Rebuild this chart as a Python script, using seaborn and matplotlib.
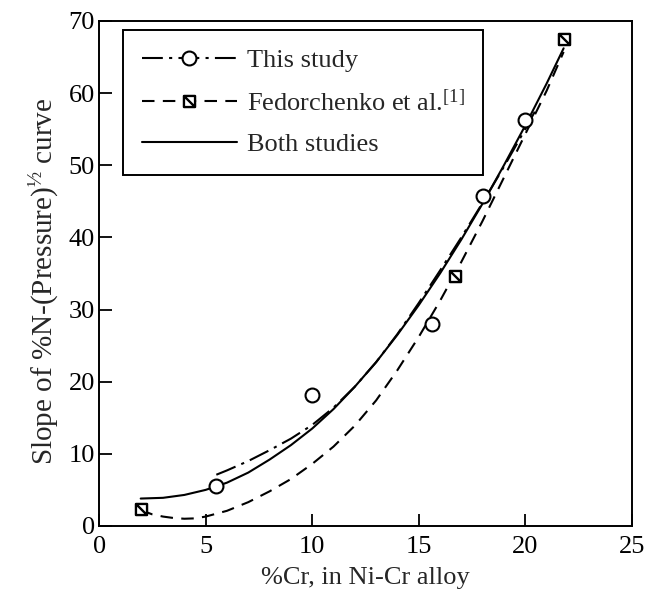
import numpy as np
import pandas as pd
import matplotlib
matplotlib.use("Agg")
import matplotlib.pyplot as plt
from matplotlib.path import Path
from matplotlib.lines import Line2D
import seaborn as sns

# ---- data ----
this_x = [5.5, 10.0, 15.6, 18.0, 20.0]
this_y = [5.5, 18.2, 28.0, 45.7, 56.3]

fed_x = [1.95, 16.7, 21.8]
fed_y = [2.3, 34.7, 67.5]

# fitted curves
this_fit_x = [5.5, 6, 7, 8, 9, 10, 11, 12, 13, 14, 15, 16, 17, 18, 19, 20, 20.5]
this_fit_y = [7.1, 7.7, 9.0, 10.5, 12.1, 14.0, 16.4, 19.3, 22.7, 26.6, 30.9, 35.4, 40.0, 44.8, 49.8, 55.0, 57.7]

fed_fit_x = [1.95, 2.5, 3, 3.5, 4, 4.5, 5, 6, 7, 8, 9, 10, 11, 12, 13, 14, 15, 16, 17, 18, 19, 20, 21, 21.8]
fed_fit_y = [2.2, 1.6, 1.3, 1.1, 1.0, 1.05, 1.3, 2.1, 3.3, 4.8, 6.5, 8.6, 11.0, 13.9, 17.4, 21.6, 26.2, 31.2, 36.6, 42.3, 48.3, 54.3, 60.3, 65.7]

both_fit_x = [1.95, 3, 4, 5, 6, 7, 8, 9, 10, 11, 12, 13, 14, 15, 16, 17, 18, 19, 20, 21, 21.8]
both_fit_y = [3.8, 3.9, 4.3, 5.0, 6.0, 7.4, 9.2, 11.2, 13.5, 16.2, 19.3, 22.7, 26.5, 30.6, 35.0, 39.7, 44.7, 50.0, 55.5, 61.3, 66.2]

x_ticks = [0, 5, 10, 15, 20, 25]
y_ticks = [0, 10, 20, 30, 40, 50, 60, 70]

sns.set_style("ticks")
plt.rcParams['font.family'] = ['Liberation Serif', 'DejaVu Serif']
plt.rcParams['mathtext.fontset'] = 'custom'
plt.rcParams['mathtext.rm'] = 'Liberation Serif'
plt.rcParams['mathtext.it'] = 'Liberation Serif:italic'
plt.rcParams['mathtext.bf'] = 'Liberation Serif:bold'

FS = 19

fig = plt.figure(figsize=(6.48, 5.97), dpi=100)
ax = fig.add_axes([0.153, 0.119, 0.822, 0.846])

lw = 1.5
sns.lineplot(x=both_fit_x, y=both_fit_y, ax=ax, color='black', lw=lw, linestyle='-', sort=False)
sns.lineplot(x=this_fit_x, y=this_fit_y, ax=ax, color='black', lw=lw, sort=False)
ax.lines[-1].set_dashes([10, 3, 1.5, 3])
sns.lineplot(x=fed_fit_x, y=fed_fit_y, ax=ax, color='black', lw=lw, sort=False)
ax.lines[-1].set_dashes([6, 4])

# square with diagonal marker
sq = Path([(-1, -1), (1, -1), (1, 1), (-1, 1), (-1, -1), (-1, 1), (1, -1)],
          [Path.MOVETO, Path.LINETO, Path.LINETO, Path.LINETO, Path.CLOSEPOLY,
           Path.MOVETO, Path.LINETO])

ax.plot(this_x, this_y, linestyle='none', marker='o', ms=10, mfc='white',
        mec='black', mew=1.5)
ax.plot(fed_x, fed_y, linestyle='none', marker=sq, ms=8, mfc='white',
        mec='black', mew=1.7)

ax.set_xlim(0, 25)
ax.set_ylim(0, 70)
ax.set_xticks(x_ticks)
ax.set_yticks(y_ticks)
ax.tick_params(axis='both', direction='in', length=9, width=1.3, labelsize=FS,
               colors='black')
ax.tick_params(axis='x', pad=7)
ax.tick_params(axis='y', pad=3)
for s in ax.spines.values():
    s.set_linewidth(1.4)
    s.set_color('black')

ax.set_xlabel('%Cr, in Ni-Cr alloy', fontsize=FS, labelpad=7)
ax.set_ylabel(r'Slope of %N-(Pressure)$^{\mathrm{½}}$ curve', fontsize=21)
ax.yaxis.set_label_coords(-0.069, 0.485)

h1 = Line2D([], [], color='black', lw=lw, marker='o', ms=10, mfc='white', mec='black', mew=1.5)
h1.set_dashes([10, 3, 1.5, 3])
h2 = Line2D([], [], color='black', lw=lw, marker=sq, ms=8, mfc='white', mec='black', mew=1.7)
h2.set_dashes([6, 4])
h3 = Line2D([], [], color='black', lw=lw, linestyle='-')

leg = ax.legend([h1, h2, h3], ['This study', r'Fedorchenko et al.$^{\mathrm{[1]}}$', 'Both studies'],
                loc='upper left', bbox_to_anchor=(0.045, 0.982), borderaxespad=0,
                fontsize=FS, handlelength=3.6, numpoints=1, frameon=True, fancybox=False,
                edgecolor='black', framealpha=1, borderpad=0.7, labelspacing=0.65,
                handletextpad=0.4)
leg.get_frame().set_linewidth(1.4)

fig.savefig('out.png', dpi=100)
